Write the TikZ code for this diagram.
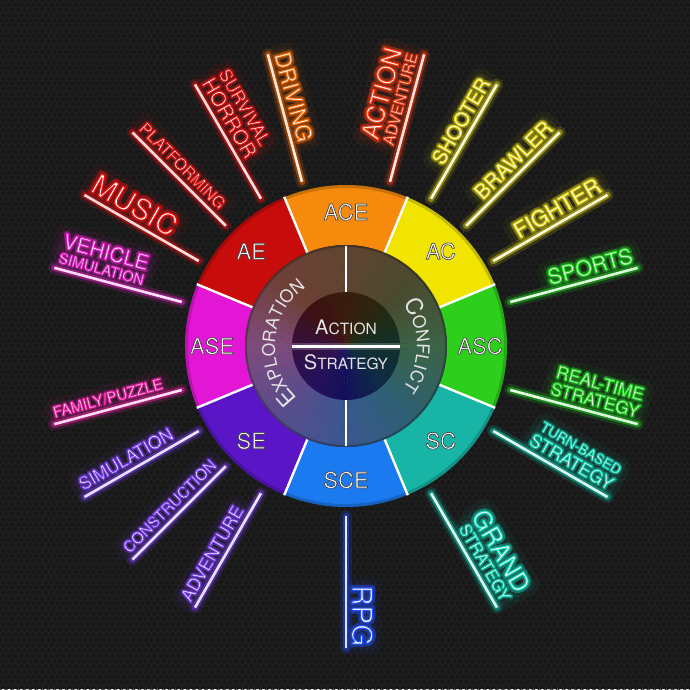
\documentclass[tikz,border=0pt]{standalone}
\usepackage{fontspec}
\setmainfont{TeX Gyre Heros}
\newfontfamily\neonfont{TeX Gyre Heros}[FakeBold=4]
\newfontfamily\haloFont{TeX Gyre Heros}[FakeBold=22]
\newfontfamily\edgefont{TeX Gyre Heros}[FakeBold=3]
\usetikzlibrary{decorations.text,patterns}

\definecolor{bg}{HTML}{181818}
\definecolor{meshc}{HTML}{242424}
% outer ring segments
\definecolor{sACE}{HTML}{F58A0C}
\definecolor{sAC}{HTML}{F0E400}
\definecolor{sASC}{HTML}{2ECF1C}
\definecolor{sSC}{HTML}{18B4A6}
\definecolor{sSCE}{HTML}{1C7AF0}
\definecolor{sSE}{HTML}{5A16C6}
\definecolor{sASE}{HTML}{E416D6}
\definecolor{sAE}{HTML}{C80C0C}
% grey ring anchors (0,45,...,315 deg)
\definecolor{gr0}{HTML}{3C6446}
\definecolor{gr1}{HTML}{4A4A2E}
\definecolor{gr2}{HTML}{604430}
\definecolor{gr3}{HTML}{6E4036}
\definecolor{gr4}{HTML}{7E4C7C}
\definecolor{gr5}{HTML}{5A4C8C}
\definecolor{gr6}{HTML}{3A5890}
\definecolor{gr7}{HTML}{2E6070}
% dark centre anchors
\definecolor{dk0}{HTML}{103028}
\definecolor{dk1}{HTML}{262812}
\definecolor{dk2}{HTML}{3A1C0E}
\definecolor{dk3}{HTML}{3C1014}
\definecolor{dk4}{HTML}{361040}
\definecolor{dk5}{HTML}{261058}
\definecolor{dk6}{HTML}{14105A}
\definecolor{dk7}{HTML}{0E2A46}
% ray colours (xcolor name + rgb triple for the glyph outline)
\definecolor{cyel}{HTML}{E8DC10}  \def\Tcyel{0.91 0.86 0.06}
\definecolor{cred}{HTML}{F01010}  \def\Tcred{0.94 0.06 0.06}
\definecolor{cora}{HTML}{FF6A00}  \def\Tcora{1 0.42 0}
\definecolor{caa}{HTML}{FF3A10}   \def\Tcaa{1 0.23 0.06}
\definecolor{cmag}{HTML}{F020D0}  \def\Tcmag{0.94 0.13 0.82}
\definecolor{cpink}{HTML}{FF20B0} \def\Tcpink{1 0.13 0.69}
\definecolor{cpur}{HTML}{8040FF}  \def\Tcpur{0.5 0.25 1}
\definecolor{cblu}{HTML}{2050FF}  \def\Tcblu{0.13 0.31 1}
\definecolor{ctea}{HTML}{10D8B8}  \def\Tctea{0.06 0.85 0.72}
\definecolor{cgrn}{HTML}{20E020}  \def\Tcgrn{0.13 0.88 0.13}
\definecolor{rimtxt}{HTML}{E4E4E4}

\pgfdeclarepatternformonly{hexmesh}{\pgfqpoint{-0.5pt}{-0.5pt}}{\pgfqpoint{6.56pt}{11pt}}{\pgfqpoint{6.06pt}{10.5pt}}{%
  \pgfsetlinewidth{0.7pt}%
  \pgfpathmoveto{\pgfqpoint{0pt}{0pt}}\pgfpathlineto{\pgfqpoint{0pt}{3.5pt}}%
  \pgfpathlineto{\pgfqpoint{3.03pt}{5.25pt}}\pgfpathlineto{\pgfqpoint{6.06pt}{3.5pt}}%
  \pgfpathmoveto{\pgfqpoint{3.03pt}{5.25pt}}\pgfpathlineto{\pgfqpoint{3.03pt}{8.75pt}}%
  \pgfpathlineto{\pgfqpoint{0pt}{10.5pt}}%
  \pgfpathmoveto{\pgfqpoint{3.03pt}{8.75pt}}\pgfpathlineto{\pgfqpoint{6.06pt}{10.5pt}}%
  \pgfusepath{stroke}}

% white glyphs with a coloured outline over a broad coloured halo
\newcommand\neon[3]{% colour, size, text
  \makebox[0pt][l]{\haloFont\fontsize{#2}{#2}\selectfont\textcolor{#1!50!bg}{#3}}%
  \neonfont\fontsize{#2}{#2}\selectfont
  \special{pdf:bcolor [0.97 0.97 0.97] [\csname T#1\endcsname]}#3\special{pdf:ecolor}}
\newcommand\edged[1]{%
  \edgefont\special{pdf:bcolor [1 1 1] [0.25 0.25 0.25]}#1\special{pdf:ecolor}}

\newcommand\rimbig{\fontsize{23}{23}\selectfont}
\newcommand\rimsmall{\fontsize{17.5}{17.5}\selectfont}

\tikzset{
  haloA/.style={line width=12pt, draw=#1, draw opacity=0.16, line cap=round},
  haloB/.style={line width=6.5pt, draw=#1, draw opacity=0.45, line cap=round},
  rcore/.style={line width=2.6pt, draw=white!88!#1},
  lbl/.style={inner xsep=4pt, inner ysep=3pt, outer sep=0pt, transform shape,
    rounded corners=6pt, fill=#1, fill opacity=0.07, text opacity=1,
    preaction={draw=#1, draw opacity=0.05, line width=10pt}},
  seglbl/.style={inner sep=0pt, font=\fontsize{22}{22}\selectfont},
  divider/.style={draw=white, line width=2.4pt},
  ctrlbl/.style={inner sep=0pt, text=rimtxt},
}

% ray on the right half: text reads outward
\newcommand\rayR[7]{%
  \begin{scope}[rotate=#2]
    \coordinate (#1a) at (170,0);
    \coordinate (#1b) at (302,0);
    \draw[haloA=#3] (#1a) -- (#1b);
    \draw[haloB=#3] (#1a) -- (#1b);
    \draw[rcore=#3] (#1a) -- (#1b);
    \node[lbl=#3, anchor=base east] (#1t) at (304,6) {\neon{#3}{#4}{#5}};
    \ifx\relax#7\relax\else
      \pgfmathsetmacro\ytwo{6+0.72*#4+5}
      \node[lbl=#3, anchor=base east] (#1u) at (304,\ytwo) {\neon{#3}{#6}{#7}};
    \fi
  \end{scope}}
% ray on the left half: text reads inward
\newcommand\rayL[7]{%
  \begin{scope}[rotate=#2-180]
    \coordinate (#1a) at (-170,0);
    \coordinate (#1b) at (-302,0);
    \draw[haloA=#3] (#1a) -- (#1b);
    \draw[haloB=#3] (#1a) -- (#1b);
    \draw[rcore=#3] (#1a) -- (#1b);
    \node[lbl=#3, anchor=base west] (#1t) at (-304,6) {\neon{#3}{#4}{#5}};
    \ifx\relax#7\relax\else
      \pgfmathsetmacro\ytwo{6+0.72*#4+5}
      \node[lbl=#3, anchor=base west] (#1u) at (-304,\ytwo) {\neon{#3}{#6}{#7}};
    \fi
  \end{scope}}

\newcommand\seg[3]{% name, centre angle, colour
  \fill[#3] (#2-22.5:161) arc[start angle=#2-22.5, end angle=#2+22.5, radius=161]
    -- (#2+22.5:101) arc[start angle=#2+22.5, end angle=#2-22.5, radius=101] -- cycle;
  \node[seglbl] (#1) at (#2:134) {\edged{#1}};}

\begin{document}
\begin{tikzpicture}[x=1pt,y=1pt,line join=round]
  \fill[bg] (-346,-343) rectangle (344,346);
  \fill[pattern=hexmesh, pattern color=meshc] (-346,-343) rectangle (344,346);
  \useasboundingbox (-346,-343) rectangle (344,346);

  % rays
  \rayR{shoot}{60}{cyel}{19.5}{SHOOTER}{}{}
  \rayR{brawl}{45}{cyel}{20.5}{BRAWLER}{}{}
  \rayR{fight}{30}{cyel}{22}{FIGHTER}{}{}
  \rayR{sport}{15}{cgrn}{21.5}{SPORTS}{}{}
  \rayR{rts}{-15}{cgrn}{17.5}{STRATEGY}{17.5}{REAL-TIME}
  \rayR{tbs}{-30}{ctea}{18}{STRATEGY}{14}{TURN-BASED}
  \rayR{gs}{-60}{ctea}{16.5}{STRATEGY}{25}{GRAND}
  \rayR{rpg}{-90}{cblu}{28}{RPG}{}{}
  \rayR{aa}{75}{caa}{15.5}{ADVENTURE}{25}{ACTION}
  \rayL{drive}{105}{cora}{22}{DRIVING}{}{}
  \rayL{sh}{120}{cred}{20}{HORROR}{17.5}{SURVIVAL}
  \rayL{plat}{135}{cred}{16}{PLATFORMING}{}{}
  \rayL{music}{150}{cred}{29}{MUSIC}{}{}
  \rayL{vs}{165}{cmag}{14.5}{SIMULATION}{20.5}{VEHICLE}
  \rayL{fam}{195}{cpink}{15}{FAMILY/PUZZLE}{}{}
  \rayL{sim}{210}{cpur}{17.5}{SIMULATION}{}{}
  \rayL{cons}{225}{cpur}{15.5}{CONSTRUCTION}{}{}
  \rayL{adv}{240}{cpur}{17.5}{ADVENTURE}{}{}

  % outer coloured ring
  \seg{ASC}{0}{sASC}
  \seg{AC}{45}{sAC}
  \seg{ACE}{90}{sACE}
  \seg{AE}{135}{sAE}
  \seg{ASE}{180}{sASE}
  \seg{SE}{225}{sSE}
  \seg{SCE}{270}{sSCE}
  \seg{SC}{315}{sSC}
  \draw[black, draw opacity=0.18, line width=3pt] (0,0) circle[radius=159.5];
  \foreach \d in {22.5,67.5,...,337.5}
    \draw[divider] (\d:100) -- (\d:161.5);

  % grey ring, colour interpolated
  \foreach \i in {0,...,71}{%
    \pgfmathsetmacro\ang{\i*5}%
    \pgfmathtruncatemacro\k{floor(\ang/45)}%
    \pgfmathtruncatemacro\kk{mod(\k+1,8)}%
    \pgfmathtruncatemacro\t{100-(\ang-45*\k)/45*100}%
    \colorlet{wc}{gr\k!\t!gr\kk}%
    \fill[wc] (0,0) -- (\ang-2.6:101) arc[start angle=\ang-2.6, end angle=\ang+2.6, radius=101] -- cycle;
  }
  \draw[black, draw opacity=0.25, line width=2pt] (0,0) circle[radius=100];
  % dark centre
  \foreach \i in {0,...,71}{%
    \pgfmathsetmacro\ang{\i*5}%
    \pgfmathtruncatemacro\k{floor(\ang/45)}%
    \pgfmathtruncatemacro\kk{mod(\k+1,8)}%
    \pgfmathtruncatemacro\t{100-(\ang-45*\k)/45*100}%
    \colorlet{wc}{dk\k!\t!dk\kk}%
    \fill[wc] (0,0) -- (\ang-2.6:54) arc[start angle=\ang-2.6, end angle=\ang+2.6, radius=54] -- cycle;
  }

  % dividers of the grey ring and the centre
  \draw[divider, line width=2pt] (90:54) -- (90:100);
  \draw[divider, line width=2pt] (270:54) -- (270:100);
  \coordinate (hl) at (180:54);
  \coordinate (hr) at (0:54);
  \draw[white, line width=7pt, draw opacity=0.2] (hl) -- (hr);
  \draw[white, line width=3pt] (hl) -- (hr);

  % centre words
  \node[ctrlbl, anchor=base] (action) at (0,12)
    {\fontsize{20}{20}\selectfont A\fontsize{15.5}{15.5}\selectfont CTION};
  \node[ctrlbl, anchor=base] (strategy) at (0,-23)
    {\fontsize{20}{20}\selectfont S\fontsize{15.5}{15.5}\selectfont TRATEGY};

  % curved words
  \path[decorate, decoration={text along path,
      text={|\rimbig|E|\rimsmall|XPLORATION}, text align=center, text color=rimtxt}]
    (266:71) arc[start angle=266, end angle=86, radius=71];
  \path[decorate, decoration={text along path,
      text={|\rimbig|C|\rimsmall|ONFLICT}, text align=center, text color=rimtxt}]
    (96:71) arc[start angle=96, end angle=-96, radius=71];
\end{tikzpicture}
\end{document}
